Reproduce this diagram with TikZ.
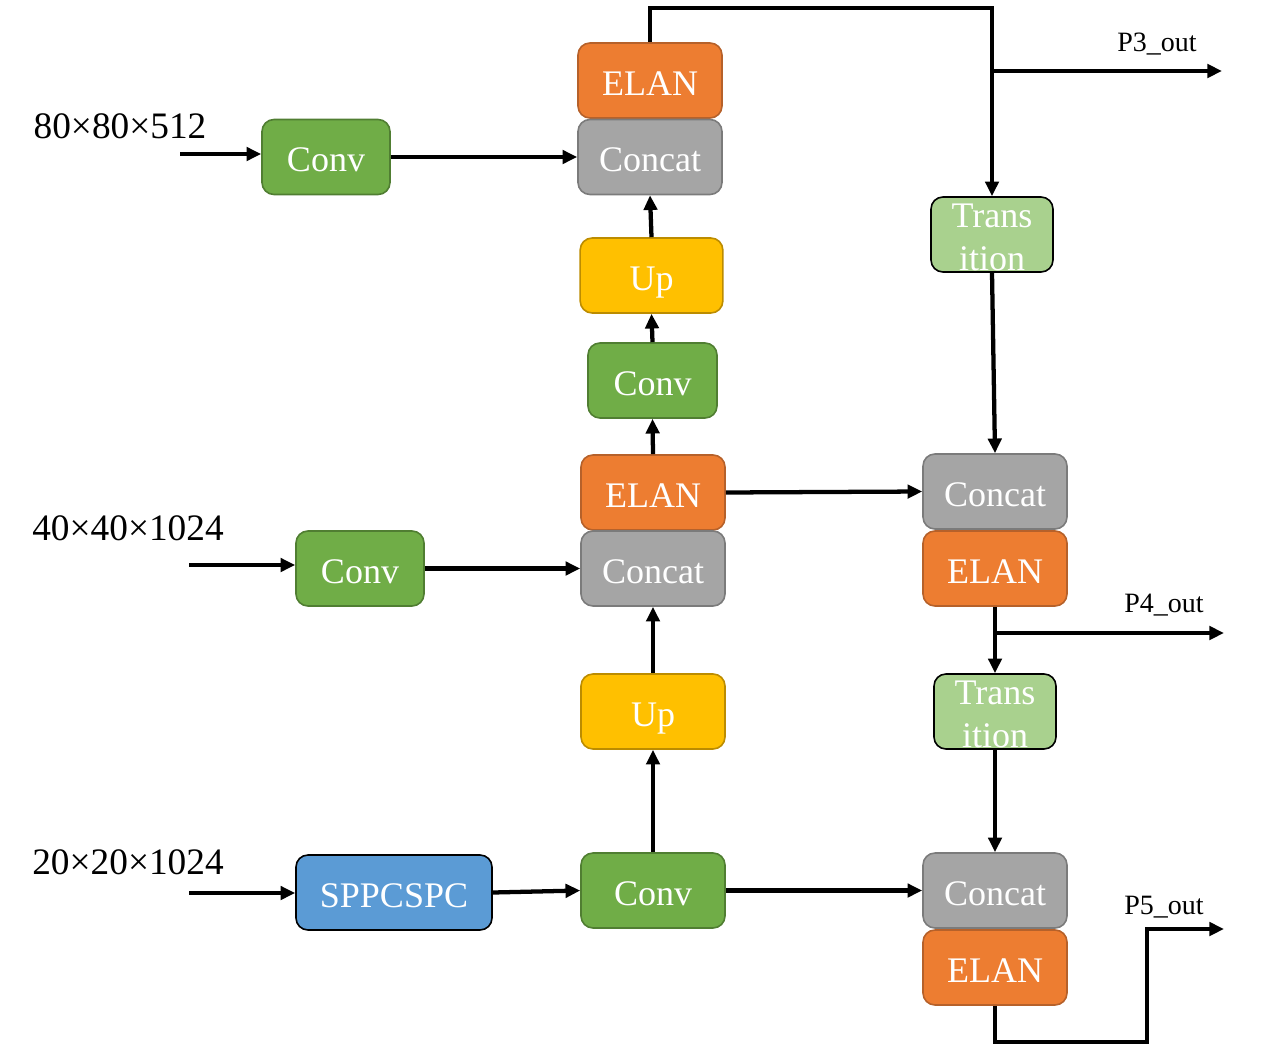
\documentclass[tikz,border=0pt]{standalone}
\usepackage{fontspec}
\setmainfont{Liberation Serif}
\usetikzlibrary{arrows.meta}
\definecolor{elanF}{HTML}{ED7D31}\definecolor{elanD}{HTML}{B6612A}
\definecolor{catF}{HTML}{A5A5A5}\definecolor{catD}{HTML}{7B7B7B}
\definecolor{convF}{HTML}{70AD47}\definecolor{convD}{HTML}{507E32}
\definecolor{upF}{HTML}{FFC000}\definecolor{upD}{HTML}{BC8C00}
\definecolor{sppF}{HTML}{5B9BD5}
\definecolor{trF}{HTML}{A9D18E}
\tikzset{
 blk/.style={rounded corners=9pt, line width=1.2pt, text=white,
   font=\fontsize{27}{32}\selectfont, minimum height=56.25pt, inner sep=0pt,
   text height=23pt, text depth=0.7pt},
 elan/.style={blk, fill=elanF, draw=elanD, minimum width=108pt},
 cat/.style={blk, fill=catF, draw=catD, minimum width=108pt},
 conv/.style={blk, fill=convF, draw=convD, minimum width=96pt},
 upb/.style={blk, fill=upF, draw=upD, minimum width=107pt},
 spp/.style={blk, fill=sppF, draw=black, minimum width=147pt},
 trans/.style={rounded corners=9pt, line width=1.2pt, text=white, inner sep=0pt,
   font=\fontsize{27}{32}\selectfont, minimum height=56.25pt, align=center,
   fill=trF, draw=black, minimum width=91.5pt},
 arr/.style={line width=3.2pt, -{Triangle[length=11pt,width=10pt]}},
 lbl/.style={font=\fontsize{28}{32}\selectfont, inner sep=0pt},
 olbl/.style={font=\fontsize{21}{24}\selectfont, inner sep=0pt}
}
\begin{document}
\begin{tikzpicture}[x=0.75pt,y=-0.75pt]
\useasboundingbox (0,0) rectangle (1280,1056);
% left column
\node[conv] (conv1) at (326,157) {Conv};
\node[conv] (conv2) at (360,568.5) {Conv};
\node[spp] (spp) at (394,892.5) {SPPCSPC};
% middle column
\node[elan] (elanT) at (650,80.5) {ELAN};
\node[cat] (catT) at (650,157) {Concat};
\node[upb] (upT) at (651.5,275.5) {Up};
\node[conv, minimum width=96.75pt] (convM) at (652.5,380.5) {Conv};
\node[elan] (elanM) at (653,492.5) {ELAN};
\node[cat] (catM) at (653,568.5) {Concat};
\node[upb, minimum width=108pt] (upB) at (653,711.5) {Up};
\node[conv, minimum width=108pt] (convB) at (653,890.5) {Conv};
% right column
\node[trans] (trT) at (992,234.5) {\rule{0pt}{22.4pt}Trans\\ition};
\node[cat] (catR1) at (995,491.5) {Concat};
\node[elan] (elanR1) at (995,568.5) {ELAN};
\node[trans] (trB) at (995,711.5) {\rule{0pt}{22.4pt}Trans\\ition};
\node[cat] (catR2) at (995,890.5) {Concat};
\node[elan] (elanR2) at (995,967.5) {ELAN};
% labels
\node[lbl] (l1) at (120,126) {80×80×512};
\node[lbl] (l2) at (128,528) {40×40×1024};
\node[lbl] (l3) at (128,862) {20×20×1024};
\node[olbl] (o3) at (1157,44) {P3\_out};
\node[olbl] (o4) at (1164,605) {P4\_out};
\node[olbl] (o5) at (1164,907) {P5\_out};
% coordinates
\coordinate (in1) at (180,154);
\coordinate (in2) at (189,565);
\coordinate (in3) at (189,893);
\coordinate (topY) at (650,8);
\coordinate (p3s) at (993,71);
\coordinate (p3e) at (1222,71);
\coordinate (p4s) at (996,633);
\coordinate (p4e) at (1224,633);
\coordinate (p5a) at (1147,1042);
\coordinate (p5e) at (1224,929);
% inputs
\draw[arr] (in1) -- (in1 -| conv1.west);
\draw[arr] (in2) -- (in2 -| conv2.west);
\draw[arr] (in3) -- (in3 -| spp.west);
% horizontal flows
\draw[arr] (conv1.east) -- (catT.west);
\draw[arr] (conv2.east) -- (catM.west);
\draw[arr] (spp.east) -- (convB.west);
\draw[arr] (elanM.east) -- (catR1.west);
\draw[arr] (convB.east) -- (catR2.west);
% vertical middle
\draw[arr] (convB.north) -- (upB.south);
\draw[arr] (upB.north) -- (catM.south);
\draw[arr] (elanM.north) -- (convM.south);
\draw[arr] (convM.north) -- (upT.south);
\draw[arr] (upT.north) -- (catT.south);
% top loop
\draw[arr] (elanT.north) |- (topY -| trT.north) -- (trT.north);
\draw[arr] (p3s) -- (p3e);
\draw[arr] (trT.south) -- (catR1.north);
% right middle
\draw[arr] (elanR1.south) -- (trB.north);
\draw[arr] (p4s) -- (p4e);
\draw[arr] (trB.south) -- (catR2.north);
% bottom out
\draw[arr] (elanR2.south) |- (p5a) |- (p5e);
\end{tikzpicture}
\end{document}
